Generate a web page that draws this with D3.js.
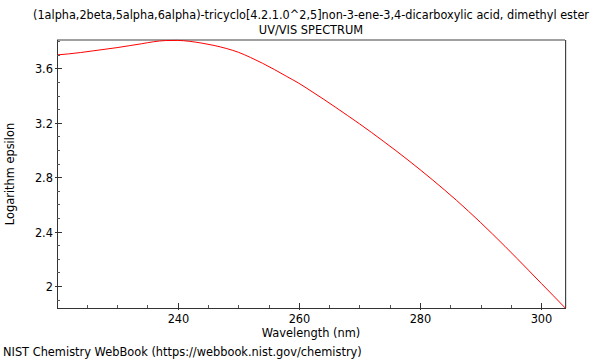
<!DOCTYPE html>
<html>
<head>
<meta charset="utf-8">
<script src="https://cdn.jsdelivr.net/npm/d3@7"></script>
<style>
  html, body { margin: 0; padding: 0; background: #fff; }
  svg { display: block; font-family: "DejaVu Sans", sans-serif; }
</style>
</head>
<body>
<svg id="chart" width="600" height="360"></svg>
<script>
const titleLines = ["(1alpha,2beta,5alpha,6alpha)-tricyclo[4.2.1.0^2,5]non-3-ene-3,4-dicarboxylic acid, dimethyl ester", "UV/VIS SPECTRUM"];
const xLabel = "Wavelength (nm)";
const yLabel = "Logarithm epsilon";
const footer = "NIST Chemistry WebBook (https://webbook.nist.gov/chemistry)";

const wavelengths = [220, 222, 224, 226, 228, 230, 232, 234, 236, 238, 240, 242, 244, 246, 248, 250, 252, 254, 256, 258, 260, 262, 264, 266, 268, 270, 272, 274, 276, 278, 280, 282, 284, 286, 288, 290, 292, 294, 296, 298, 300, 302, 304];
const logEpsilon = [3.698, 3.706, 3.716, 3.728, 3.740, 3.752, 3.766, 3.780, 3.795, 3.804, 3.805, 3.798, 3.785, 3.768, 3.746, 3.718, 3.680, 3.637, 3.590, 3.540, 3.490, 3.433, 3.375, 3.315, 3.254, 3.192, 3.128, 3.062, 2.995, 2.926, 2.855, 2.782, 2.707, 2.630, 2.549, 2.466, 2.380, 2.292, 2.202, 2.111, 2.019, 1.928, 1.836];

const xMajorTicks = [240, 260, 280, 300];
const xMinorTicks = [225, 230, 235, 245, 250, 255, 265, 270, 275, 285, 290, 295];
const yMajorTicks = [2.0, 2.4, 2.8, 3.2, 3.6];
const yTickLabels = ["2", "2.4", "2.8", "3.2", "3.6"];
const yMinorTicks = [1.9, 2.1, 2.2, 2.3, 2.5, 2.6, 2.7, 2.9, 3.0, 3.1, 3.3, 3.4, 3.5, 3.7, 3.8];

const FS = 11.4;
const L = 57, R = 565, T = 40, B = 308;
const x = d3.scaleLinear().domain([220, 304]).range([56.5, 565.5]);
const y = d3.scaleLinear().domain([1.838, 3.808]).range([B, T]);

const svg = d3.select("#chart");

// titles
const t1 = svg.append("text").attr("x", 311).attr("y", 18.5).attr("text-anchor", "middle")
  .attr("font-size", FS).attr("fill", "#000").text(titleLines[0]);
if (t1.node().getComputedTextLength() > 556) {
  t1.attr("textLength", 556).attr("lengthAdjust", "spacingAndGlyphs");
}
svg.append("text").attr("x", 311).attr("y", 34).attr("text-anchor", "middle")
  .attr("font-size", FS).attr("fill", "#000").text(titleLines[1]);

// frame top & right
svg.append("line").attr("x1", L).attr("x2", R).attr("y1", T).attr("y2", T)
  .attr("stroke", "#a0a0a0").attr("stroke-width", 2);
svg.append("line").attr("x1", R + 0.5).attr("x2", R + 0.5).attr("y1", T).attr("y2", B)
  .attr("stroke", "#444").attr("stroke-width", 1);
svg.append("line").attr("x1", R + 1.5).attr("x2", R + 1.5).attr("y1", T).attr("y2", B)
  .attr("stroke", "#ddd").attr("stroke-width", 1);

// curve
svg.append("clipPath").attr("id", "clip").append("rect")
  .attr("x", L).attr("y", T - 1).attr("width", R - L + 1).attr("height", B - T + 1);
const line = d3.line().x((d, i) => x(wavelengths[i])).y(d => y(d)).curve(d3.curveMonotoneX);
svg.append("path").datum(logEpsilon).attr("d", line).attr("clip-path", "url(#clip)")
  .attr("fill", "none").attr("stroke", "#ff0000").attr("stroke-width", 1);

// axes lines
svg.append("line").attr("x1", L + 0.5).attr("x2", L + 0.5).attr("y1", T).attr("y2", B + 0.5)
  .attr("stroke", "#333").attr("stroke-width", 1);
svg.append("line").attr("x1", L).attr("x2", R + 1).attr("y1", B + 0.5).attr("y2", B + 0.5)
  .attr("stroke", "#333").attr("stroke-width", 1);

// y ticks
const gy = svg.append("g");
yMajorTicks.forEach((v, i) => {
  const yy = Math.round(y(v)) + 0.5;
  gy.append("line").attr("x1", L - 2).attr("x2", L + 5).attr("y1", yy).attr("y2", yy)
    .attr("stroke", "#333");
  gy.append("text").attr("x", L - 4).attr("y", yy + 4.3).attr("text-anchor", "end")
    .attr("font-size", FS).attr("fill", "#000").text(yTickLabels[i]);
});
yMinorTicks.forEach(v => {
  const yy = Math.round(y(v)) + 0.5;
  gy.append("line").attr("x1", L).attr("x2", L + 3).attr("y1", yy).attr("y2", yy)
    .attr("stroke", "#555");
});

// x ticks
const gx = svg.append("g");
xMajorTicks.forEach(v => {
  const xx = Math.round(x(v)) + 0.5;
  gx.append("line").attr("x1", xx).attr("x2", xx).attr("y1", B - 5).attr("y2", B + 2)
    .attr("stroke", "#333");
  gx.append("text").attr("x", xx).attr("y", B + 15).attr("text-anchor", "middle")
    .attr("font-size", FS).attr("fill", "#000").text(v);
});
xMinorTicks.forEach(v => {
  const xx = Math.round(x(v)) + 0.5;
  gx.append("line").attr("x1", xx).attr("x2", xx).attr("y1", B - 3).attr("y2", B)
    .attr("stroke", "#555");
});

// axis labels
svg.append("text").attr("x", 311).attr("y", 337).attr("text-anchor", "middle")
  .attr("font-size", FS).attr("fill", "#000").text(xLabel);
svg.append("text").attr("transform", "translate(14,174) rotate(-90)").attr("text-anchor", "middle")
  .attr("font-size", FS).attr("fill", "#000").text(yLabel);

// footer
svg.append("text").attr("x", 3).attr("y", 356).attr("font-size", FS).attr("fill", "#000").text(footer);
</script>
</body>
</html>
